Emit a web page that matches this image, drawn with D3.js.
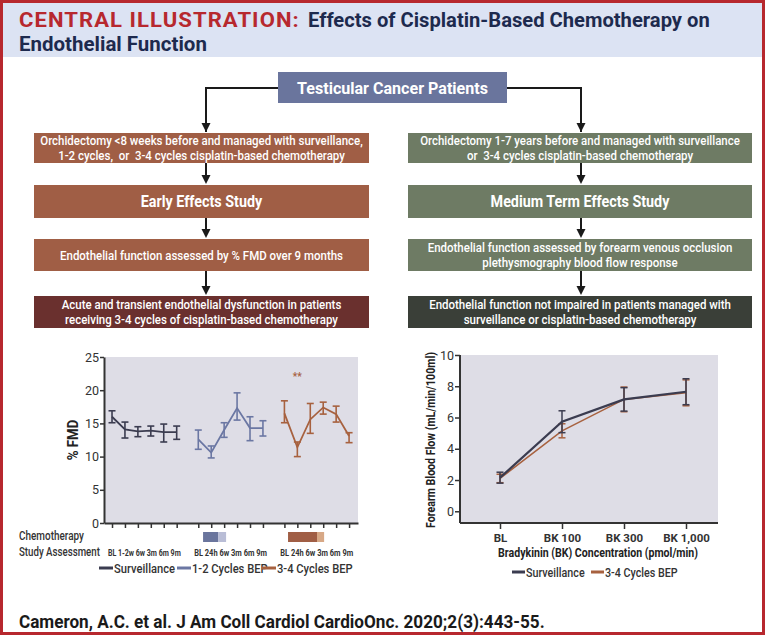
<!DOCTYPE html>
<html><head><meta charset="utf-8">
<script src="https://d3js.org/d3.v7.min.js"></script>
<style>
body{margin:0;background:#fff;}
svg{display:block;}
text{font-family:Roboto,"Open Sans","Liberation Sans",sans-serif;white-space:pre;}
</style></head><body>
<svg id="c" width="765" height="635"></svg>
<script>
// ---------------- DATA ----------------
const titleRed = "CENTRAL ILLUSTRATION:";
const titleLine1 = "Effects of Cisplatin-Based Chemotherapy on";
const titleLine2 = "Endothelial Function";
const topBoxText = "Testicular Cancer Patients";
const earlyTexts = [
  ["Orchidectomy <8 weeks before and managed with surveillance,", "1-2 cycles,  or  3-4 cycles cisplatin-based chemotherapy"],
  ["Early Effects Study"],
  ["Endothelial function assessed by % FMD over 9 months"],
  ["Acute and transient endothelial dysfunction in patients", "receiving 3-4 cycles of cisplatin-based chemotherapy"]
];
const mediumTexts = [
  ["Orchidectomy 1-7 years before and managed with surveillance", "or  3-4 cycles cisplatin-based chemotherapy"],
  ["Medium Term Effects Study"],
  ["Endothelial function assessed by forearm venous occlusion", "plethysmography blood flow response"],
  ["Endothelial function not impaired in patients managed with", "surveillance or cisplatin-based chemotherapy"]
];
const citation = "Cameron, A.C. et al. J Am Coll Cardiol CardioOnc. 2020;2(3):443-55.";

// Left chart: % FMD
const fmdTicks = [0, 5, 10, 15, 20, 25];
const fmdGroups = ["Surveillance", "1-2 Cycles BEP", "3-4 Cycles BEP"];
const assessLabels = [
  ["BL", "1-2w", "6w", "3m", "6m", "9m"],
  ["BL", "24h", "6w", "3m", "6m", "9m"],
  ["BL", "24h", "6w", "3m", "6m", "9m"]
];
const survFMD   = [16.0, 14.1, 13.8, 13.9, 13.7, 13.7];
const survLo    = [15.1, 12.8, 13.0, 13.1, 12.2, 12.6];
const survHi    = [16.9, 15.2, 14.5, 14.6, 14.9, 14.6];
const bep12FMD  = [12.6, 10.6, 14.0, 17.3, 14.3, 14.3];
const bep12Lo   = [11.1,  9.8, 12.9, 15.5, 12.4, 13.1];
const bep12Hi   = [14.0, 11.6, 15.1, 19.6, 16.0, 15.4];
const bep34FMD  = [16.5, 11.4, 15.6, 17.4, 16.4, 13.1];
const bep34Lo   = [15.1, 10.0, 13.5, 16.4, 15.2, 12.1];
const bep34Hi   = [18.4, 12.2, 18.0, 18.2, 17.6, 13.6];
// chemotherapy periods (in assessment-index units from group BL): [darkStart, darkEnd, lightEnd]
const chemo12 = [0.37, 1.53, 2.15];
const chemo34 = [0.28, 2.52, 3.07];
const sigMark = "**";
const sigMarkValue = 22.2;

// Right chart: forearm blood flow
const bkLabels = ["BL", "BK 100", "BK 300", "BK 1,000"];
const fbfTicks = [0, 2, 4, 6, 8, 10];
const survFBF    = [2.15, 5.73, 7.16, 7.65];
const survFBFerr = [0.35, 0.70, 0.75, 0.83];
const bepFBF     = [2.10, 5.15, 7.16, 7.58];
const bepFBFerr  = [0.27, 0.45, 0.79, 0.83];

// ---------------- DRAW ----------------
const svg = d3.select("#c");
const RED = "#b7282e", NAVY = "#1d2a4e";
const C_SURV = "#3b3c50", C_12 = "#6b77a3", C_34 = "#a7613f";

function measure(str, size, weight, ls) {
  const t = svg.append("text").attr("font-size", size).attr("font-weight", weight).attr("letter-spacing", ls || 0).text(str);
  const w = t.node().getComputedTextLength(); t.remove(); return w;
}
// condensed text: horizontal scale via transform (k = factor) ; rot optional
function ctext(o) {
  const nat = measure(o.text, o.size, o.weight, o.ls);
  const k = o.width ? o.width / nat : (o.k || 1);
  const t = svg.append("text")
    .attr("transform", `translate(${o.x},${o.y})${o.rot ? ` rotate(${o.rot})` : ""} scale(${k},1)`)
    .attr("font-size", o.size).attr("font-weight", o.weight).attr("fill", o.fill)
    .attr("text-anchor", o.anchor || "start").attr("letter-spacing", o.ls || 0).text(o.text);
  return t;
}

// frame
svg.append("rect").attr("width", 765).attr("height", 635).attr("fill", RED);
svg.append("rect").attr("x", 3).attr("y", 3).attr("width", 759).attr("height", 629).attr("fill", "#fff");
svg.append("rect").attr("x", 3).attr("y", 3).attr("width", 759).attr("height", 54).attr("fill", "#dce3f3");

// title
ctext({ x: 19, y: 26.5, size: 21, weight: 700, fill: RED, ls: 1, text: titleRed, width: 281 });
ctext({ x: 308, y: 26.5, size: 21, weight: 700, fill: NAVY, text: titleLine1, width: 402 });
ctext({ x: 19, y: 50.5, size: 21, weight: 700, fill: NAVY, text: titleLine2, width: 188 });

// flowchart
const arrowCol = "#1a1a1a";
function arrowHead(x, yTip) {
  svg.append("path").attr("d", `M${x - 4.5},${yTip - 9}L${x + 4.5},${yTip - 9}L${x},${yTip}Z`).attr("fill", arrowCol);
}
const topBox = { x: 278, y: 72, w: 229, h: 31 };
svg.append("rect").attr("x", topBox.x).attr("y", topBox.y).attr("width", topBox.w).attr("height", topBox.h).attr("fill", "#6a759d");
ctext({ x: topBox.x + topBox.w / 2, y: topBox.y + 21.5, anchor: "middle", size: 17, weight: 700, fill: "#fff", text: topBoxText, width: 191 });

const colX = [{ x: 34, w: 335, ax: 206 }, { x: 408, w: 344, ax: 581 }];
const boxYs = [133, 185, 239, 296];
const boxHs = [30, 33, 32, 32];
const fills = [["#a05e45", "#a05e45", "#a05e45", "#6a302e"], ["#6e7b64", "#6e7b64", "#6e7b64", "#3a3f38"]];
const midY = topBox.y + 16;
svg.append("path").attr("d", `M${topBox.x},${midY}H${colX[0].ax}V${boxYs[0] - 1}`).attr("fill", "none").attr("stroke", arrowCol).attr("stroke-width", 2);
svg.append("path").attr("d", `M${topBox.x + topBox.w},${midY}H${colX[1].ax}V${boxYs[0] - 1}`).attr("fill", "none").attr("stroke", arrowCol).attr("stroke-width", 2);
arrowHead(colX[0].ax, boxYs[0] - 1); arrowHead(colX[1].ax, boxYs[0] - 1);

const bodyK = 323 / measure(earlyTexts[0][0], 13, 500);
const headK = 179 / measure(mediumTexts[1][0], 16.5, 700);
[earlyTexts, mediumTexts].forEach((texts, ci) => {
  const c = colX[ci];
  texts.forEach((lines, bi) => {
    const y = boxYs[bi], h = boxHs[bi];
    svg.append("rect").attr("x", c.x).attr("y", y).attr("width", c.w).attr("height", h).attr("fill", fills[ci][bi]);
    const head = bi === 1;
    const cy = y + h / 2;
    lines.forEach((ln, li) => {
      const ly = cy + (li - (lines.length - 1) / 2) * 14.5 + (head ? 5.8 : 4.5);
      ctext({ x: c.x + c.w / 2, y: ly, anchor: "middle", size: head ? 16.5 : 13, weight: head ? 700 : 500,
        fill: "#fff", text: ln, k: head ? headK : bodyK });
    });
    if (bi < texts.length - 1) {
      svg.append("line").attr("x1", c.ax).attr("x2", c.ax).attr("y1", y + h).attr("y2", boxYs[bi + 1] - 6)
        .attr("stroke", arrowCol).attr("stroke-width", 2);
      arrowHead(c.ax, boxYs[bi + 1] - 1);
    }
  });
});

// ---------- Left chart ----------
const plotBg = "#dedde6";
const fx = d3.scaleLinear().domain([-0.62, 19.02]).range([104, 358]);
const fy = d3.scaleLinear().domain([0, 25]).range([523, 357]);
const groupStart = [0, 6.67, 13.33];
svg.append("rect").attr("x", fx.range()[0]).attr("y", fy(25)).attr("width", fx.range()[1] - fx.range()[0])
  .attr("height", fy(0) - fy(25)).attr("fill", plotBg);

const tickPos = [];
groupStart.forEach(g => assessLabels[0].forEach((_, i) => tickPos.push(g + i)));
const gxa = svg.append("g").attr("transform", `translate(0,${fy(0)})`)
  .call(d3.axisBottom(fx).tickValues(tickPos).tickFormat("").tickSize(5).tickSizeOuter(0));
gxa.select(".domain").attr("stroke", "#333").attr("stroke-width", 2);
gxa.selectAll(".tick line").attr("stroke", "#333").attr("stroke-width", 1.5);
const gya = svg.append("g").attr("transform", `translate(${fx.range()[0]},0)`)
  .call(d3.axisLeft(fy).tickValues(fmdTicks).tickSize(4).tickSizeOuter(0));
gya.select(".domain").attr("stroke", "#333").attr("stroke-width", 2);
gya.selectAll(".tick line").attr("stroke", "#333").attr("stroke-width", 1.5);
gya.selectAll(".tick text").attr("font-size", 12.5).attr("fill", "#333").attr("font-family", "Roboto,sans-serif").attr("x", -5);

ctext({ x: 78, y: (fy(0) + fy(25)) / 2, rot: -90, anchor: "middle", size: 14, weight: 700, fill: "#222", text: "% FMD", k: 0.95 });

const fmdSeries = [
  { mean: survFMD, lo: survLo, hi: survHi, color: C_SURV },
  { mean: bep12FMD, lo: bep12Lo, hi: bep12Hi, color: C_12 },
  { mean: bep34FMD, lo: bep34Lo, hi: bep34Hi, color: C_34 }
];
fmdSeries.forEach((s, gi) => {
  const pts = s.mean.map((v, i) => ({ x: groupStart[gi] + i, v, lo: s.lo[i], hi: s.hi[i] }));
  svg.append("path").datum(pts).attr("fill", "none").attr("stroke", s.color).attr("stroke-width", 1.8)
    .attr("d", d3.line().x(d => fx(d.x)).y(d => fy(d.v)));
  const eb = svg.append("g").attr("stroke", s.color).attr("stroke-width", 1.6);
  pts.forEach(d => {
    const x = fx(d.x);
    eb.append("line").attr("x1", x).attr("x2", x).attr("y1", fy(d.lo)).attr("y2", fy(d.hi));
    eb.append("line").attr("x1", x - 3.5).attr("x2", x + 3.5).attr("y1", fy(d.lo)).attr("y2", fy(d.lo));
    eb.append("line").attr("x1", x - 3.5).attr("x2", x + 3.5).attr("y1", fy(d.hi)).attr("y2", fy(d.hi));
  });
});
svg.append("text").attr("x", fx(groupStart[2] + 1)).attr("y", fy(sigMarkValue) + 4).attr("text-anchor", "middle")
  .attr("font-size", 10).attr("font-weight", 700).attr("fill", C_34).text(sigMark);

// chemo bars
const chemoRowY = 532, chemoRowH = 10;
[[chemo12, 1, "#6a759d", "#b9bdd6"], [chemo34, 2, "#a05e45", "#d7a886"]].forEach(([p, gi, dark, light]) => {
  svg.append("rect").attr("x", fx(groupStart[gi] + p[0])).attr("y", chemoRowY).attr("width", fx(groupStart[gi] + p[1]) - fx(groupStart[gi] + p[0]))
    .attr("height", chemoRowH).attr("fill", dark);
  svg.append("rect").attr("x", fx(groupStart[gi] + p[1])).attr("y", chemoRowY).attr("width", fx(groupStart[gi] + p[2]) - fx(groupStart[gi] + p[1]))
    .attr("height", chemoRowH).attr("fill", light);
});
ctext({ x: 19, y: 540, size: 12.5, weight: 500, fill: "#333", text: "Chemotherapy", width: 65 });
ctext({ x: 19, y: 556, size: 12.5, weight: 500, fill: "#333", text: "Study Assessment", width: 81 });
assessLabels.forEach((labs, gi) => {
  const cx = (fx(groupStart[gi]) + fx(groupStart[gi] + labs.length - 1)) / 2;
  ctext({ x: cx, y: 555.5, anchor: "middle", size: 9, weight: 700, fill: "#333", text: labs.join(" "), width: 73 });
});

// left legend
const legL = [{ name: fmdGroups[0], color: C_SURV }, { name: fmdGroups[1], color: C_12 }, { name: fmdGroups[2], color: C_34 }];
const legLx = [99, 177, 262];
legL.forEach((d, i) => {
  svg.append("line").attr("x1", legLx[i]).attr("x2", legLx[i] + 14).attr("y1", 568).attr("y2", 568).attr("stroke", d.color).attr("stroke-width", 3);
  ctext({ x: legLx[i] + 15, y: 572.5, size: 13, weight: 500, fill: "#333", text: d.name, k: 0.86 });
});

// ---------- Right chart ----------
const bx = d3.scalePoint().domain(bkLabels).range([500, 686]);
const by = d3.scaleLinear().domain([-0.75, 10]).range([523, 355]);
svg.append("rect").attr("x", 460).attr("y", by(10)).attr("width", 258).attr("height", by(-0.75) - by(10)).attr("fill", plotBg);
const rxa = svg.append("g").attr("transform", `translate(0,${by(-0.75)})`).call(d3.axisBottom(bx).tickSize(6).tickSizeOuter(0));
rxa.select(".domain").attr("d", `M460,0H718`).attr("stroke", "#333").attr("stroke-width", 2);
rxa.selectAll(".tick line").attr("stroke", "#333").attr("stroke-width", 1.5);
rxa.selectAll(".tick text").attr("font-size", 11.5).attr("font-weight", 700).attr("fill", "#333").attr("y", 11).attr("font-family", "Roboto,sans-serif");
const rya = svg.append("g").attr("transform", `translate(460,0)`).call(d3.axisLeft(by).tickValues(fbfTicks).tickSize(5).tickSizeOuter(0));
rya.select(".domain").attr("d", `M0,${by(10)}V${by(-0.75)}`).attr("stroke", "#333").attr("stroke-width", 2);
rya.selectAll(".tick line").attr("stroke", "#333").attr("stroke-width", 1.5);
rya.selectAll(".tick text").attr("font-size", 12.5).attr("fill", "#333").attr("font-family", "Roboto,sans-serif").attr("x", -6);

ctext({ x: 435, y: 440, rot: -90, anchor: "middle", size: 12.5, weight: 700, fill: "#222", text: "Forearm Blood Flow (mL/min/100ml)", width: 176 });
ctext({ x: 598, y: 557, anchor: "middle", size: 13, weight: 700, fill: "#222", text: "Bradykinin (BK) Concentration (pmol/min)", width: 200 });

const fbfSeries = [
  { mean: bepFBF, err: bepFBFerr, color: C_34, w: 1.5 },
  { mean: survFBF, err: survFBFerr, color: C_SURV, w: 2.2 }
];
fbfSeries.forEach(s => {
  const pts = s.mean.map((v, i) => ({ k: bkLabels[i], v, e: s.err[i] }));
  const eb = svg.append("g").attr("stroke", s.color).attr("stroke-width", 1.5);
  pts.forEach(d => {
    const x = bx(d.k);
    eb.append("line").attr("x1", x).attr("x2", x).attr("y1", by(d.v - d.e)).attr("y2", by(d.v + d.e));
    eb.append("line").attr("x1", x - 3.5).attr("x2", x + 3.5).attr("y1", by(d.v - d.e)).attr("y2", by(d.v - d.e));
    eb.append("line").attr("x1", x - 3.5).attr("x2", x + 3.5).attr("y1", by(d.v + d.e)).attr("y2", by(d.v + d.e));
  });
  svg.append("path").datum(pts).attr("fill", "none").attr("stroke", s.color).attr("stroke-width", s.w)
    .attr("d", d3.line().x(d => bx(d.k)).y(d => by(d.v)));
});

// right legend
const legR = [{ name: "Surveillance", color: C_SURV, x: 512 }, { name: "3-4 Cycles BEP", color: C_34, x: 591 }];
legR.forEach(d => {
  svg.append("line").attr("x1", d.x).attr("x2", d.x + 13).attr("y1", 572).attr("y2", 572).attr("stroke", d.color).attr("stroke-width", 3);
  ctext({ x: d.x + 14, y: 576.5, size: 12.5, weight: 500, fill: "#333", text: d.name, k: 0.86 });
});

// citation
ctext({ x: 19, y: 628, size: 19, weight: 700, fill: "#1a1a1a", text: citation, width: 526 });
</script>
</body></html>
